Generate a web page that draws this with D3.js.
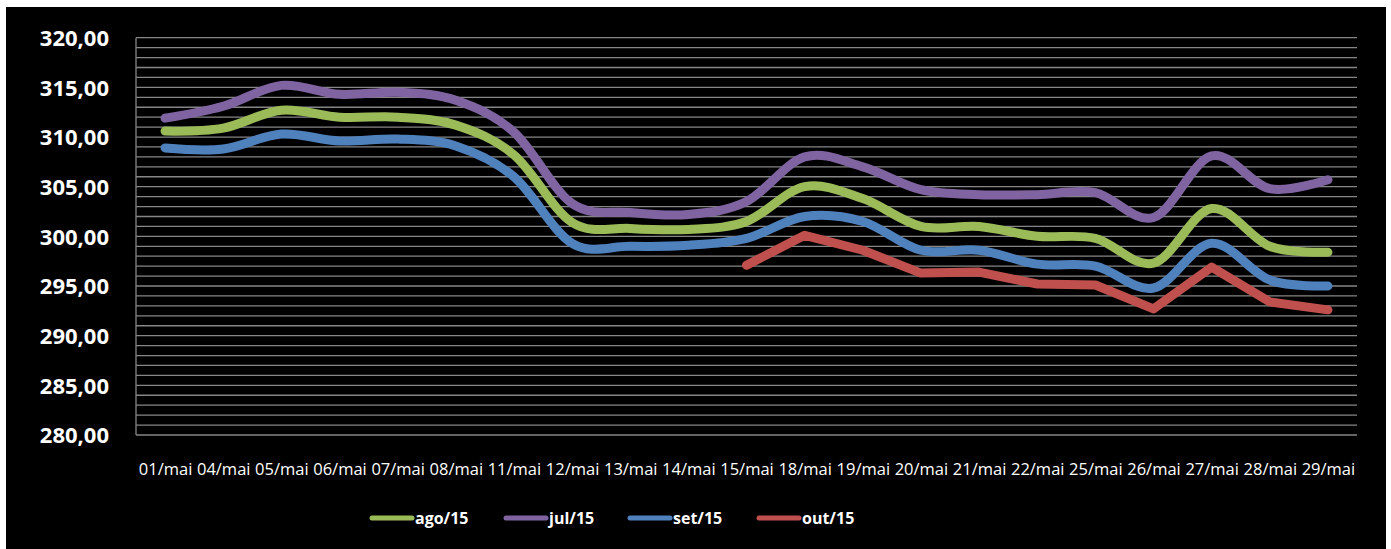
<!DOCTYPE html>
<html>
<head>
<meta charset="utf-8">
<script src="https://cdn.jsdelivr.net/npm/d3@7"></script>
<style>
  html, body { margin: 0; padding: 0; background: #ffffff; }
  svg { display: block; }
</style>
</head>
<body>
<svg id="chart" width="1391" height="549"></svg>
<script>
// Trading days of May
const categories = ["01/mai","04/mai","05/mai","06/mai","07/mai","08/mai","11/mai","12/mai","13/mai","14/mai","15/mai","18/mai","19/mai","20/mai","21/mai","22/mai","25/mai","26/mai","27/mai","28/mai","29/mai"];

// Contract prices per maturity
const ago15 = [310.6, 310.9, 312.7, 312.0, 312.0, 311.2, 308.2, 301.4, 300.8, 300.7, 301.5, 305.0, 303.8, 301.0, 301.0, 300.0, 299.8, 297.3, 302.8, 299.0, 298.4];
const jul15 = [311.9, 313.1, 315.2, 314.3, 314.5, 313.7, 310.5, 303.3, 302.4, 302.2, 303.5, 308.0, 307.0, 304.7, 304.2, 304.2, 304.4, 301.9, 308.1, 304.8, 305.7];
const set15 = [308.9, 308.8, 310.3, 309.6, 309.8, 309.1, 306.0, 299.3, 299.0, 299.1, 299.8, 302.0, 301.5, 298.6, 298.6, 297.2, 297.0, 294.8, 299.3, 295.6, 295.0];
const out15 = [null, null, null, null, null, null, null, null, null, null, 297.1, 300.1, 298.6, 296.3, 296.4, 295.2, 295.1, 292.7, 296.9, 293.4, 292.6];

const yTicks = [280, 285, 290, 295, 300, 305, 310, 315, 320];
const seriesNames = ["ago/15", "jul/15", "set/15", "out/15"];

const series = [
  { name: "jul/15", values: jul15, color: "#8064A2", smooth: true },
  { name: "ago/15", values: ago15, color: "#9BBB59", smooth: true },
  { name: "set/15", values: set15, color: "#4F81BD", smooth: true },
  { name: "out/15", values: out15, color: "#C0504D", smooth: false }
];
const colorOf = Object.fromEntries(series.map(s => [s.name, s.color]));

const svg = d3.select("#chart");

// dark chart panel
svg.append("rect")
  .attr("x", 6).attr("y", 7)
  .attr("width", 1380).attr("height", 542)
  .attr("fill", "#000000");

const plot = { left: 136, right: 1357, top: 37.7, bottom: 435 };

const x = d3.scalePoint()
  .domain(categories)
  .range([plot.left, plot.right])
  .padding(0.5);

const y = d3.scaleLinear()
  .domain([280, 320])
  .range([plot.bottom, plot.top]);

// horizontal gridlines every unit
svg.append("g")
  .selectAll("line")
  .data(d3.range(280, 321, 1))
  .join("line")
  .attr("x1", plot.left).attr("x2", plot.right)
  .attr("y1", d => y(d)).attr("y2", d => y(d))
  .attr("stroke", "#868686")
  .attr("stroke-width", 1.3);

// vertical axis line
svg.append("line")
  .attr("x1", plot.left).attr("x2", plot.left)
  .attr("y1", plot.top).attr("y2", plot.bottom)
  .attr("stroke", "#868686")
  .attr("stroke-width", 1.3);

// y axis labels
const fmt = v => d3.format(".2f")(v).replace(".", ",");
const yAxis = d3.axisLeft(y).tickValues(yTicks).tickFormat(fmt).tickSize(0).tickPadding(0);
const gy = svg.append("g")
  .attr("transform", `translate(${plot.left - 27},0)`)
  .call(yAxis);
gy.select(".domain").remove();
gy.selectAll("text")
  .attr("fill", "#ffffff")
  .attr("font-family", "'Open Sans', sans-serif")
  .attr("font-weight", "bold")
  .attr("font-size", "22px")
  .attr("dy", "0.35em");

// x axis labels
const xAxis = d3.axisBottom(x).tickSize(0).tickPadding(0);
const gx = svg.append("g")
  .attr("transform", `translate(0,${plot.bottom + 28})`)
  .call(xAxis);
gx.select(".domain").remove();
gx.selectAll("text")
  .attr("fill", "#ffffff")
  .attr("font-family", "'Open Sans', sans-serif")
  .attr("font-size", "16.5px")
  .attr("dy", "0.71em");

// series lines
const smoothLine = d3.line()
  .defined(d => d.v != null)
  .x(d => x(d.c))
  .y(d => y(d.v))
  .curve(d3.curveCardinal.tension(0));
const straightLine = d3.line()
  .defined(d => d.v != null)
  .x(d => x(d.c))
  .y(d => y(d.v));

svg.append("g")
  .selectAll("path")
  .data(series)
  .join("path")
  .attr("d", s => (s.smooth ? smoothLine : straightLine)(s.values.map((v, i) => ({ c: categories[i], v }))))
  .attr("fill", "none")
  .attr("stroke", s => s.color)
  .attr("stroke-width", 9)
  .attr("stroke-linecap", "round")
  .attr("stroke-linejoin", "round");

// legend
const legendX = [372, 506, 630, 759];
const lg = svg.append("g");
seriesNames.forEach((name, i) => {
  const g = lg.append("g").attr("transform", `translate(${legendX[i]},518)`);
  g.append("line")
    .attr("x1", 0).attr("x2", 40)
    .attr("y1", 0).attr("y2", 0)
    .attr("stroke", colorOf[name])
    .attr("stroke-width", 5)
    .attr("stroke-linecap", "round");
  g.append("text")
    .attr("x", 43).attr("y", 0)
    .attr("dy", "0.35em")
    .attr("fill", "#ffffff")
    .attr("font-family", "'Open Sans', sans-serif")
    .attr("font-weight", "bold")
    .attr("font-size", "16px")
    .text(name);
});
</script>
</body>
</html>
